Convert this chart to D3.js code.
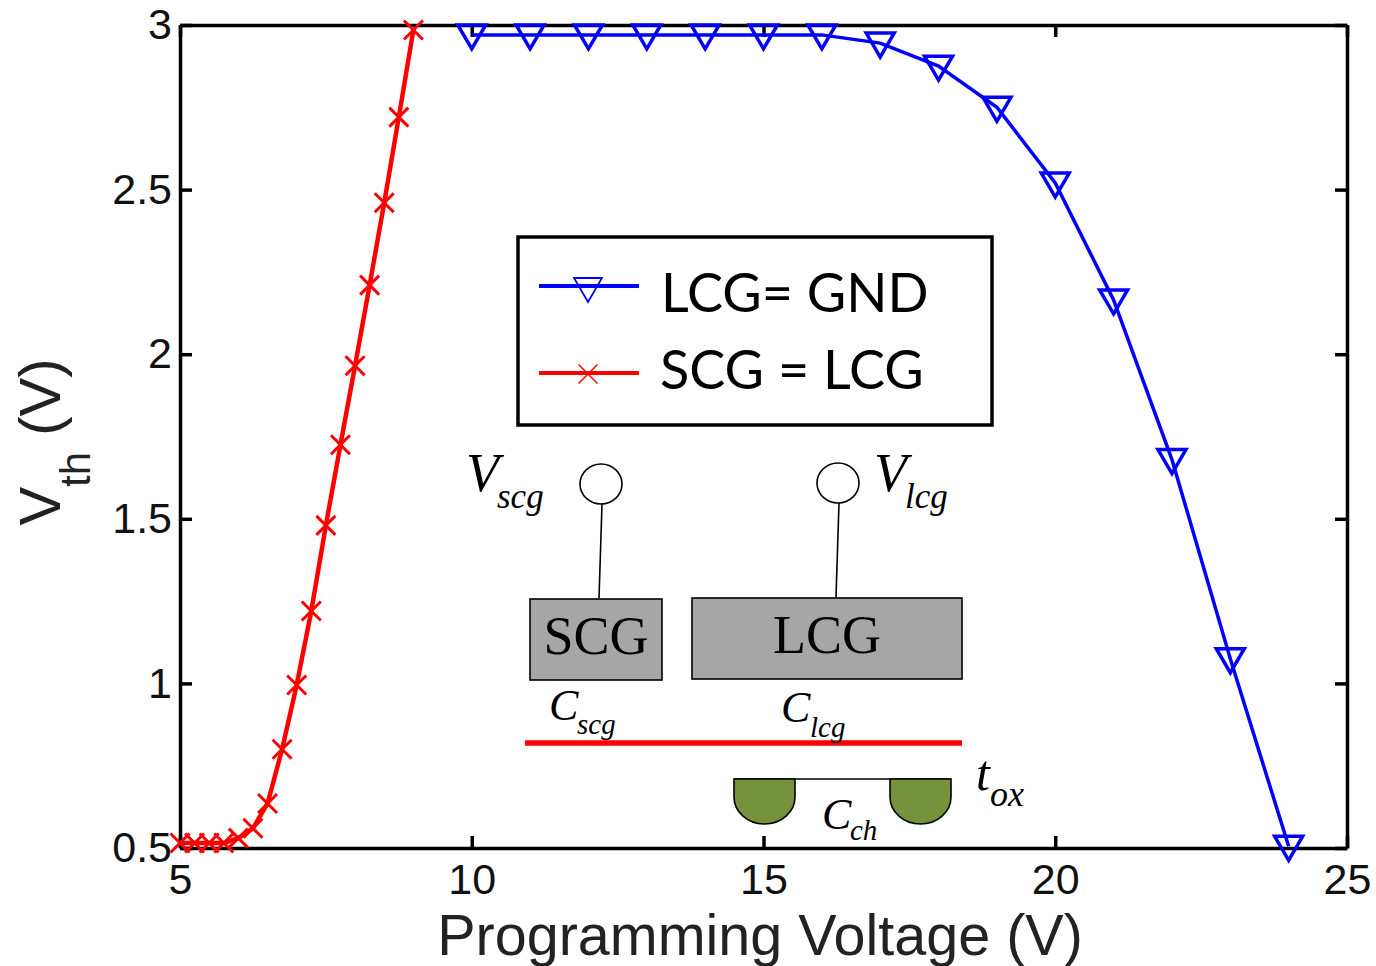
<!DOCTYPE html>
<html>
<head>
<meta charset="utf-8">
<title>Vth vs programming voltage</title>
<script src="https://cdn.jsdelivr.net/npm/d3@7"></script>
<style>
	html, body { margin: 0; padding: 0; background: #fff; }
	svg { display: block; }
	.axis text { font-family: "Liberation Sans", sans-serif; font-size: 43px; fill: #111; }
	.axis path, .axis line { stroke: #000; }
	.serif { font-family: "Liberation Serif", serif; fill: #000; }
	.legend-text { font-family: Lato, sans-serif; font-size: 54px; fill: #000; }
</style>
</head>
<body>
<div id="chart"></div>
<script>
// series
var lcgGndVoltage = [10, 11, 12, 13, 14, 15, 16, 17, 18, 19, 20, 21, 22, 23, 24];
var lcgGndVth = [2.97, 2.97, 2.97, 2.97, 2.97, 2.97, 2.97, 2.945, 2.875, 2.75, 2.52, 2.165, 1.68, 1.075, 0.505];
var scgLcgVoltage = [5, 5.25, 5.5, 5.75, 6, 6.25, 6.5, 6.75, 7, 7.25, 7.5, 7.75, 8, 8.25, 8.5, 8.75, 9];
var scgLcgVth = [0.515, 0.515, 0.515, 0.515, 0.53, 0.56, 0.635, 0.8, 0.995, 1.22, 1.48, 1.725, 1.965, 2.21, 2.46, 2.72, 2.985];
var xTicks = [5, 10, 15, 20, 25];
var yTicks = [0.5, 1, 1.5, 2, 2.5, 3];
var legendLabels = ["LCG= GND", "SCG = LCG"];

var width = 1376, height = 966;
var plot = { left: 180, right: 1347, top: 25, bottom: 848 };
var tickLen = 12;

var svg = d3.select("#chart").append("svg")
	.attr("width", width)
	.attr("height", height);

var x = d3.scaleLinear().domain([5, 25]).range([plot.left, plot.right]);
var y = d3.scaleLinear().domain([0.5, 3]).range([plot.bottom, plot.top]);

// matlab box: ticks point inwards on all four sides, labels only bottom and left
function styleAxis(g) {
	g.attr("class", "axis");
	g.selectAll("path, line").attr("stroke-width", 3.5);
}
svg.append("g")
	.attr("transform", "translate(0," + plot.bottom + ")")
	.call(d3.axisBottom(x).tickValues(xTicks).tickFormat(d3.format("d")).tickSizeInner(-tickLen).tickSizeOuter(0).tickPadding(15))
	.call(styleAxis);
svg.append("g")
	.attr("transform", "translate(0," + plot.top + ")")
	.call(d3.axisTop(x).tickValues(xTicks).tickFormat("").tickSizeInner(-tickLen).tickSizeOuter(0))
	.call(styleAxis);
svg.append("g")
	.attr("transform", "translate(" + plot.left + ",0)")
	.call(d3.axisLeft(y).tickValues(yTicks).tickFormat(d3.format("")).tickSizeInner(-tickLen).tickSizeOuter(0).tickPadding(8))
	.call(styleAxis);
svg.append("g")
	.attr("transform", "translate(" + plot.right + ",0)")
	.call(d3.axisRight(y).tickValues(yTicks).tickFormat("").tickSizeInner(-tickLen).tickSizeOuter(0))
	.call(styleAxis);

// axis titles
svg.append("text")
	.attr("x", 760)
	.attr("y", 955)
	.attr("text-anchor", "middle")
	.attr("font-family", "Liberation Sans, sans-serif")
	.attr("font-size", 57.5)
	.attr("fill", "#222")
	.text("Programming Voltage (V)");

var yTitle = svg.append("text")
	.attr("transform", "translate(60,442) rotate(-90)")
	.attr("text-anchor", "middle")
	.attr("font-family", "Liberation Sans, sans-serif")
	.attr("font-size", 58)
	.attr("fill", "#222");
yTitle.append("tspan").text("V");
yTitle.append("tspan").attr("font-size", 42).attr("dy", 30).text("th");
yTitle.append("tspan").attr("dy", -30).text(" (V)");

// curves
var line = d3.line()
	.x(function(d) { return x(d[0]); })
	.y(function(d) { return y(d[1]); });
var lcgGnd = d3.zip(lcgGndVoltage, lcgGndVth);
var scgLcg = d3.zip(scgLcgVoltage, scgLcgVth);

function trianglePath(size) {
	var w = 14 * size, up = 10 * size, down = 14 * size;
	var p = d3.path();
	p.moveTo(-w, -up);
	p.lineTo(w, -up);
	p.lineTo(0, down);
	p.closePath();
	return p.toString();
}
function crossPath(size) {
	var r = 9.5 * size;
	var p = d3.path();
	p.moveTo(-r, -r);
	p.lineTo(r, r);
	p.moveTo(-r, r);
	p.lineTo(r, -r);
	return p.toString();
}

svg.append("path").datum(scgLcg)
	.attr("d", line)
	.attr("fill", "none")
	.attr("stroke", "#f00")
	.attr("stroke-width", 4.5);
svg.selectAll("path.cross").data(scgLcg).enter().append("path")
	.attr("class", "cross")
	.attr("d", crossPath(1))
	.attr("transform", function(d) { return "translate(" + x(d[0]) + "," + y(d[1]) + ")"; })
	.attr("fill", "none")
	.attr("stroke", "#f00")
	.attr("stroke-width", 3);

svg.append("path").datum(lcgGnd)
	.attr("d", line)
	.attr("fill", "none")
	.attr("stroke", "#00f")
	.attr("stroke-width", 3.5);
svg.selectAll("path.tri").data(lcgGnd).enter().append("path")
	.attr("class", "tri")
	.attr("d", trianglePath(1))
	.attr("transform", function(d) { return "translate(" + x(d[0]) + "," + y(d[1]) + ")"; })
	.attr("fill", "none")
	.attr("stroke", "#00f")
	.attr("stroke-width", 3.5);

// legend
var legend = svg.append("g");
legend.append("rect")
	.attr("x", 518).attr("y", 237)
	.attr("width", 474).attr("height", 188)
	.attr("fill", "#fff")
	.attr("stroke", "#000")
	.attr("stroke-width", 3.5);
legend.append("line")
	.attr("x1", 539).attr("x2", 639).attr("y1", 286).attr("y2", 286)
	.attr("stroke", "#00f").attr("stroke-width", 4);
legend.append("path")
	.attr("d", trianglePath(1))
	.attr("transform", "translate(588,288)")
	.attr("fill", "none").attr("stroke", "#00f").attr("stroke-width", 1.8);
legend.append("line")
	.attr("x1", 539).attr("x2", 639).attr("y1", 373).attr("y2", 373)
	.attr("stroke", "#f00").attr("stroke-width", 4);
legend.append("path")
	.attr("d", crossPath(1))
	.attr("transform", "translate(588,374)")
	.attr("fill", "none").attr("stroke", "#f00").attr("stroke-width", 1.5);
legend.append("text").attr("class", "legend-text")
	.attr("x", 661).attr("y", 312).text(legendLabels[0]);
legend.append("text").attr("class", "legend-text")
	.attr("x", 660).attr("y", 389).text(legendLabels[1]);

// device sketch inside the plot
var sketch = svg.append("g");

function addTerminal(cx, cy, x1, y1, x2, y2) {
	sketch.append("ellipse")
		.attr("cx", cx).attr("cy", cy).attr("rx", 21).attr("ry", 20)
		.attr("fill", "#fff").attr("stroke", "#000").attr("stroke-width", 1.6);
	sketch.append("line")
		.attr("x1", x1).attr("y1", y1).attr("x2", x2).attr("y2", y2)
		.attr("stroke", "#000").attr("stroke-width", 1.6);
}
addTerminal(601, 484, 602, 504, 599, 598);
addTerminal(838, 483, 839, 503, 836, 597);

function addGate(x0, y0, w, h, label, labelX) {
	sketch.append("rect")
		.attr("x", x0).attr("y", y0).attr("width", w).attr("height", h)
		.attr("fill", "#a6a6a6").attr("stroke", "#000").attr("stroke-width", 1.6);
	sketch.append("text").attr("class", "serif")
		.attr("x", labelX).attr("y", y0 + 55)
		.attr("text-anchor", "middle")
		.attr("font-size", 54)
		.text(label);
}
addGate(530, 599, 132, 81, "SCG", 596);
addGate(692, 598, 270, 81, "LCG", 827);

sketch.append("line")
	.attr("x1", 525).attr("x2", 962).attr("y1", 743).attr("y2", 743)
	.attr("stroke", "#f00").attr("stroke-width", 5.5);

// channel with source and drain wells
function wellPath(x0, x1, top, bottom) {
	var rx = (x1 - x0) / 2, shoulder = top + 18;
	return "M" + x0 + "," + top + "L" + x1 + "," + top + "L" + x1 + "," + shoulder +
		"A" + rx + "," + (bottom - shoulder) + " 0 0 1 " + x0 + "," + shoulder + "Z";
}
sketch.append("line")
	.attr("x1", 734).attr("x2", 951).attr("y1", 779).attr("y2", 779)
	.attr("stroke", "#000").attr("stroke-width", 1.6);
sketch.append("path").attr("d", wellPath(734, 795, 779, 824))
	.attr("fill", "#76923c").attr("stroke", "#000").attr("stroke-width", 1.6);
sketch.append("path").attr("d", wellPath(890, 951, 779, 824))
	.attr("fill", "#76923c").attr("stroke", "#000").attr("stroke-width", 1.6);

// italic symbols with subscripts
function addSymbol(mainX, mainY, mainSize, main, subX, subY, subSize, sub) {
	sketch.append("text").attr("class", "serif")
		.attr("x", mainX).attr("y", mainY)
		.attr("font-size", mainSize).attr("font-style", "italic")
		.text(main);
	sketch.append("text").attr("class", "serif")
		.attr("x", subX).attr("y", subY)
		.attr("font-size", subSize).attr("font-style", "italic")
		.text(sub);
}
addSymbol(466, 491, 54, "V", 497, 508, 35, "scg");
addSymbol(874, 491, 54, "V", 905, 508, 35, "lcg");
addSymbol(549, 720, 44, "C", 577, 734, 29, "scg");
addSymbol(781, 722, 44, "C", 810, 737, 29, "lcg");
addSymbol(822, 829, 44, "C", 850, 840, 29, "ch");
addSymbol(976, 790, 50, "t", 990, 806, 36, "ox");
</script>
</body>
</html>
